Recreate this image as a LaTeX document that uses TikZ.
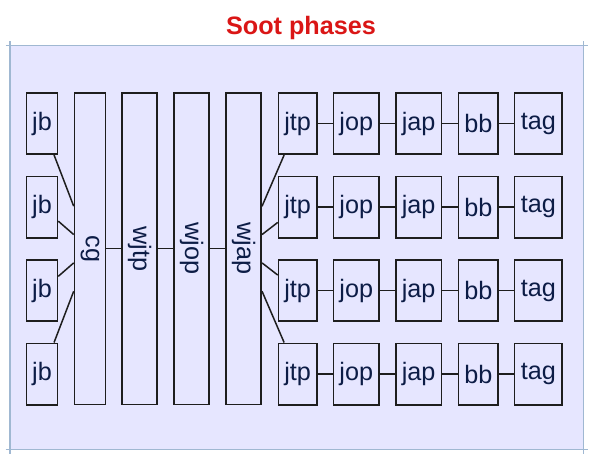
\documentclass[tikz,border=0pt]{standalone}
\usepackage{fontspec}
\setmainfont{Liberation Sans}
\definecolor{bgfill}{RGB}{230,230,255}
\definecolor{bgline}{RGB}{160,184,210}
\definecolor{edge}{RGB}{30,30,30}
\definecolor{txt}{RGB}{12,28,70}
\definecolor{titlered}{RGB}{218,22,22}
\begin{document}
\begin{tikzpicture}[x=1pt,y=-1pt,
  box/.style={draw=edge, line width=1.6pt, fill=bgfill, inner sep=0pt, text=txt,
    font=\fontsize{25.2}{30}\selectfont, minimum height=61.4pt},
  col/.style={draw=edge, line width=1.6pt, fill=bgfill, inner sep=0pt, text=txt,
    font=\fontsize{25.2}{30}\selectfont, rotate=-90, minimum width=311.7pt},
  link/.style={draw=edge, line width=1.5pt},
  frameline/.style={draw=bgline, line width=1.1pt}]
\useasboundingbox (0,0) rectangle (604,459);
\fill[bgfill] (10,45.7) rectangle (583.5,449.3);
\coordinate (fa) at (5.5,45.7);
\coordinate (fb) at (588,45.7);
\coordinate (fc) at (5.5,449.3);
\coordinate (fd) at (588,449.3);
\coordinate (fe) at (10,41);
\coordinate (ff) at (10,454);
\coordinate (fg) at (583.5,41);
\coordinate (fh) at (583.5,454);
\draw[frameline] (fa) -- (fb);
\draw[frameline] (fc) -- (fd);
\draw[frameline] (fe) -- (ff);
\draw[frameline] (fg) -- (fh);
\node[anchor=base, text=titlered, font=\bfseries\fontsize{25.2}{30}\selectfont] (title) at (301,34) {Soot phases};
% tall columns
\node[col, minimum height=31pt] (cg) at (90,248.7) {cg};
\node[col, minimum height=35pt] (wjtp) at (139.7,248.7) {wjtp};
\node[col, minimum height=35pt] (wjop) at (191.7,248.7) {wjop};
\node[col, minimum height=35pt] (wjap) at (243.7,248.7) {wjap};
\draw[link] (cg) -- (wjtp);
\draw[link] (wjtp) -- (wjop);
\draw[link] (wjop) -- (wjap);
\foreach \r/\y in {1/123.5,2/207,3/290.5,4/374}{
  \node[box, minimum width=31pt] (jb\r) at (42,\y) {jb};
  \node[box, minimum width=38.3pt] (jtp\r) at (297.7,\y) {jtp};
  \node[box, minimum width=45.7pt] (jop\r) at (356.3,\y) {jop};
  \node[box, minimum width=45.7pt] (jap\r) at (418.7,\y) {jap};
  \node[box, minimum width=39.7pt] (bb\r) at (478.3,\y) {bb};
  \node[box, minimum width=47.7pt] (tag\r) at (538.3,\y) {tag};
  \draw[link] (jb\r) -- (cg);
  \draw[link] (wjap) -- (jtp\r);
  \draw[link] (jtp\r) -- (jop\r);
  \draw[link] (jop\r) -- (jap\r);
  \draw[link] (jap\r) -- (bb\r);
  \draw[link] (bb\r) -- (tag\r);
}
\end{tikzpicture}
\end{document}
